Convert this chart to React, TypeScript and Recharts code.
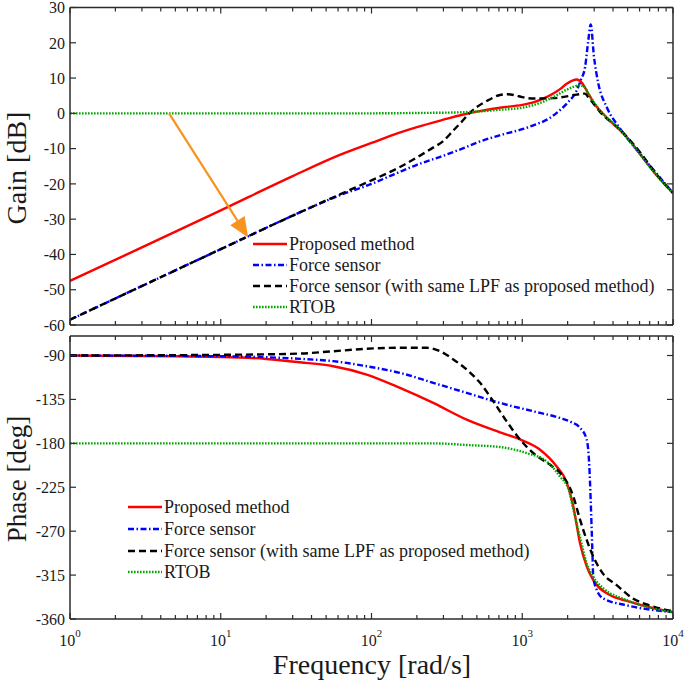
import React from 'react';
import { LineChart, Line, XAxis, YAxis, ReferenceLine } from 'recharts';

// frequency [rad/s], value pairs
const gainProposed = [
  [1, -47.5], [3, -38], [10, -27.5], [30, -17.8], [60, -12.0], [100, -8.4], [150, -5.6],
  [200, -3.9], [300, -1.8], [400, -0.4], [500, 0.5], [712, 1.6], [1000, 2.4], [1184, 3.1],
  [1400, 4.3], [1607, 5.6], [1800, 7.0], [1972, 8.4], [2150, 9.3], [2300, 9.6], [2479, 8.7],
  [2743, 5.6], [3000, 2.8], [3280, 0.8], [3800, -2.0], [4449, -4.8], [5000, -7.0],
  [6039, -11.5], [7762, -17.5], [10000, -22.6],
];
const gainSensor = [
  [1, -58.5], [10, -38.5], [30, -29], [60, -23.4], [100, -20], [150, -16.8], [200, -14.6],
  [300, -12], [400, -10], [500, -8.3], [712, -6.2], [1000, -4.5], [1184, -3.4], [1500, -1.5],
  [1778, 0.9], [2000, 3.0], [2297, 6.5], [2450, 9.5], [2608, 13], [2743, 20.7], [2845, 25.2],
  [2992, 16], [3199, 8.4], [3631, 1.8], [4449, -4.3], [6039, -11.4], [7762, -17], [10000, -22.6],
];
const gainSensorLpf = [
  [1, -58.5], [10, -38.5], [30, -29], [60, -23.2], [100, -19], [150, -15.5], [200, -12.5],
  [250, -10], [300, -7.8], [350, -4.8], [400, -2.2], [450, 0.2], [500, 1.8], [600, 3.8],
  [712, 5.2], [800, 5.4], [900, 5.1], [1000, 4.6], [1184, 4.2], [1607, 4.3], [1972, 4.8],
  [2297, 5.3], [2608, 5.6], [2743, 4.6], [3000, 2.5], [3280, 0.4], [4449, -4.6], [6039, -11],
  [7762, -17.3], [10000, -22.6],
];
const gainRtob = [
  [1, 0], [100, 0], [200, 0.1], [400, 0.3], [712, 1.0], [1000, 1.6], [1184, 2.3], [1607, 4.6],
  [1972, 6.7], [2415, 7.9], [2608, 7.3], [2743, 5.6], [3000, 3.0], [3280, 0.8], [4449, -4.7],
  [6039, -11.6], [7762, -17.5], [10000, -22.6],
];

const phaseProposed = [
  [1, -90], [10, -91.5], [20, -93.5], [33.6, -96.9], [55.8, -101], [92.9, -109.5],
  [154.5, -123.2], [257, -138.6], [428, -155.7], [712, -168.7], [966, -176], [1312, -186.5],
  [1692, -203.7], [1972, -220], [2183, -245], [2415, -282], [2676, -306], [2959, -320],
  [3820, -335.5], [4935, -341.4], [7000, -348], [10000, -353],
];
const phaseSensor = [
  [1, -90], [10, -90.7], [33.6, -93.4], [55.8, -95.8], [92.9, -101], [154.5, -107.8],
  [257, -118], [428, -128.3], [712, -138.6], [1187, -147.2], [1778, -154], [2100, -158],
  [2415, -164], [2676, -176], [2786, -204], [2844, -238], [2917, -289], [2959, -317],
  [3118, -330], [3451, -339], [4935, -346], [10000, -353],
];
const phaseSensorLpf = [
  [1, -90], [10, -89.3], [33.6, -88], [55.8, -85.6], [92.9, -83.1], [154.5, -82], [232, -82],
  [285, -85.6], [349, -94], [428, -104.4], [525, -118], [643, -137], [788, -157.5],
  [966, -176], [1184, -190], [1528, -202], [1778, -210], [2183, -234.6], [2415, -258],
  [2676, -279], [2959, -296], [3451, -314], [4208, -325], [5420, -339], [6980, -346],
  [10000, -352],
];
const phaseRtob = [
  [1, -180], [257, -180], [428, -181.7], [712, -183.8], [1071, -190], [1452, -198.5],
  [1778, -214], [2038, -228], [2183, -248], [2415, -276], [2676, -303], [2959, -317],
  [3451, -328.5], [4935, -340.7], [10000, -353],
];

const freqTicks = [
  1, 2, 3, 4, 5, 6, 7, 8, 9,
  10, 20, 30, 40, 50, 60, 70, 80, 90,
  100, 200, 300, 400, 500, 600, 700, 800, 900,
  1000, 2000, 3000, 4000, 5000, 6000, 7000, 8000, 9000,
  10000,
];
const freqDecades = [1, 10, 100, 1000, 10000];
const decadeExponents = ['0', '1', '2', '3', '4'];
const gainTicks = [-60, -50, -40, -30, -20, -10, 0, 10, 20, 30];
const phaseTicks = [-360, -315, -270, -225, -180, -135, -90];

const seriesNames = [
  'Proposed method',
  'Force sensor',
  'Force sensor (with same LPF as proposed method)',
  'RTOB',
];

// arrow: from the RTOB line down to the force sensor line
const arrowFrom = { x: 4.54, y: 0 };
const arrowTo = { x: 15.2, y: -35.2 };

const FONT = '"Liberation Serif", "Times New Roman", serif';
const INK = '#1a1a1a';
const AXIS = '#2b2b2b';

const styles = [
  { stroke: '#ff0000', dash: undefined as string | undefined },
  { stroke: '#0000ff', dash: '6 2.5 1.5 2.5' },
  { stroke: '#000000', dash: '7 4' },
  { stroke: '#00a800', dash: '1.6 1.4' },
];

const toPts = (arr: number[][]) => arr.map(([w, v]) => ({ w, v }));

const BottomTick = (withLabels: boolean) => (props: any) => {
  const { x, y, payload } = props;
  const i = freqDecades.indexOf(payload.value);
  const len = i >= 0 ? 6 : 4;
  return (
    <g>
      <line x1={x} x2={x} y1={y} y2={y - len} stroke={AXIS} strokeWidth={1.2} />
      {withLabels && i >= 0 && (
        <text x={x} y={y + 27} textAnchor="middle" fontFamily={FONT} fontSize={16} fill={INK}>
          <tspan>10</tspan>
          <tspan dy={-9} fontSize={11}>{decadeExponents[i]}</tspan>
        </text>
      )}
    </g>
  );
};

const TopTick = (props: any) => {
  const { x, y, payload } = props;
  const len = freqDecades.includes(payload.value) ? 6 : 4;
  return <line x1={x} x2={x} y1={y} y2={y + len} stroke={AXIS} strokeWidth={1.2} />;
};

const LeftTick = (props: any) => {
  const { x, y, payload } = props;
  return (
    <g>
      <line x1={x} x2={x + 6} y1={y} y2={y} stroke={AXIS} strokeWidth={1.2} />
      <text x={x - 5} y={y} dy="0.36em" textAnchor="end" fontFamily={FONT} fontSize={16} fill={INK}>
        {payload.value}
      </text>
    </g>
  );
};

const RightTick = (props: any) => {
  const { x, y } = props;
  return <line x1={x} x2={x - 6} y1={y} y2={y} stroke={AXIS} strokeWidth={1.2} />;
};

const ArrowShape = (props: any) => {
  const { x1, y1, x2, y2 } = props;
  const dx = x2 - x1;
  const dy = y2 - y1;
  const d = Math.hypot(dx, dy);
  const ux = dx / d;
  const uy = dy / d;
  const headLen = 20;
  const half = 8.5;
  const bx = x2 - ux * headLen;
  const by = y2 - uy * headLen;
  const pts = [
    `${x2},${y2}`,
    `${bx - uy * half},${by + ux * half}`,
    `${bx + uy * half},${by - ux * half}`,
  ].join(' ');
  return (
    <g>
      <line x1={x1} y1={y1} x2={bx} y2={by} stroke="#f7931e" strokeWidth={2.2} />
      <polygon points={pts} fill="#f7931e" />
    </g>
  );
};

function Panel(props: {
  height: number;
  topH: number;
  bottomH: number;
  domain: [number, number];
  yTicks: number[];
  series: number[][][];
  labels: boolean;
  arrow?: boolean;
}) {
  const { height, topH, bottomH, domain, yTicks, series, labels, arrow } = props;
  return (
    <LineChart width={685} height={height} margin={{ top: 0, right: 0, bottom: 0, left: 0 }}>
      <XAxis
        xAxisId="b"
        dataKey="w"
        type="number"
        scale="log"
        domain={[1, 10000]}
        allowDataOverflow
        ticks={freqTicks}
        interval={0}
        height={bottomH}
        tickSize={0}
        tickMargin={0}
        tickLine={false}
        tick={BottomTick(labels)}
        axisLine={{ stroke: AXIS, strokeWidth: 1.5 }}
      />
      <XAxis
        xAxisId="t"
        orientation="top"
        dataKey="w"
        type="number"
        scale="log"
        domain={[1, 10000]}
        allowDataOverflow
        ticks={freqTicks}
        interval={0}
        height={topH}
        tickSize={0}
        tickMargin={0}
        tickLine={false}
        tick={TopTick}
        axisLine={{ stroke: AXIS, strokeWidth: 1.5 }}
      />
      <YAxis
        yAxisId="l"
        type="number"
        domain={domain}
        allowDataOverflow
        ticks={yTicks}
        interval={0}
        width={70}
        tickSize={0}
        tickMargin={0}
        tickLine={false}
        tick={LeftTick}
        axisLine={{ stroke: AXIS, strokeWidth: 1.5 }}
      />
      <YAxis
        yAxisId="r"
        orientation="right"
        type="number"
        domain={domain}
        allowDataOverflow
        ticks={yTicks}
        interval={0}
        width={12}
        tickSize={0}
        tickMargin={0}
        tickLine={false}
        tick={RightTick}
        axisLine={{ stroke: AXIS, strokeWidth: 1.5 }}
      />
      {series.map((s, i) => (
        <Line
          key={seriesNames[i]}
          xAxisId="b"
          yAxisId="l"
          data={toPts(s)}
          dataKey="v"
          type="monotone"
          dot={false}
          activeDot={false}
          stroke={styles[i].stroke}
          strokeDasharray={styles[i].dash}
          strokeWidth={2.4}
          isAnimationActive={false}
        />
      ))}
      {arrow && (
        <ReferenceLine
          xAxisId="b"
          yAxisId="l"
          segment={[arrowFrom, arrowTo]}
          shape={ArrowShape}
        />
      )}
    </LineChart>
  );
}

function LegendRows({ x0, rows }: { x0: number; rows: number[] }) {
  return (
    <g>
      {seriesNames.map((name, i) => (
        <g key={name}>
          <line
            x1={x0}
            x2={x0 + 34}
            y1={rows[i]}
            y2={rows[i]}
            stroke={styles[i].stroke}
            strokeDasharray={styles[i].dash}
            strokeWidth={2.4}
          />
          <text x={x0 + 36} y={rows[i]} dy="0.35em" fontFamily={FONT} fontSize={18} fill={INK}>
            {name}
          </text>
        </g>
      ))}
    </g>
  );
}

export default function App() {
  return (
    <div style={{ position: 'absolute', left: 0, top: 0, width: 685, height: 682, background: '#fff' }}>
      <div style={{ position: 'absolute', left: 0, top: 0 }}>
        <Panel
          height={335}
          topH={7.5}
          bottomH={10}
          domain={[-60, 30]}
          yTicks={gainTicks}
          series={[gainProposed, gainSensor, gainSensorLpf, gainRtob]}
          labels={false}
          arrow
        />
      </div>
      <div style={{ position: 'absolute', left: 0, top: 330 }}>
        <Panel
          height={352}
          topH={6}
          bottomH={63}
          domain={[-360, -70]}
          yTicks={phaseTicks}
          series={[phaseProposed, phaseSensor, phaseSensorLpf, phaseRtob]}
          labels
        />
      </div>
      <svg
        width={685}
        height={682}
        style={{ position: 'absolute', left: 0, top: 0, pointerEvents: 'none' }}
      >
        <LegendRows x0={253} rows={[244, 265, 286, 307]} />
        <LegendRows x0={128} rows={[507, 529, 551, 572]} />
        <text
          transform="translate(26,168) rotate(-90)"
          textAnchor="middle"
          fontFamily={FONT}
          fontSize={28}
          fill={INK}
        >
          Gain [dB]
        </text>
        <text
          transform="translate(26,479) rotate(-90)"
          textAnchor="middle"
          fontFamily={FONT}
          fontSize={27}
          fill={INK}
        >
          Phase [deg]
        </text>
        <text x={372} y={674} textAnchor="middle" fontFamily={FONT} fontSize={28} fill={INK}>
          Frequency [rad/s]
        </text>
      </svg>
    </div>
  );
}
